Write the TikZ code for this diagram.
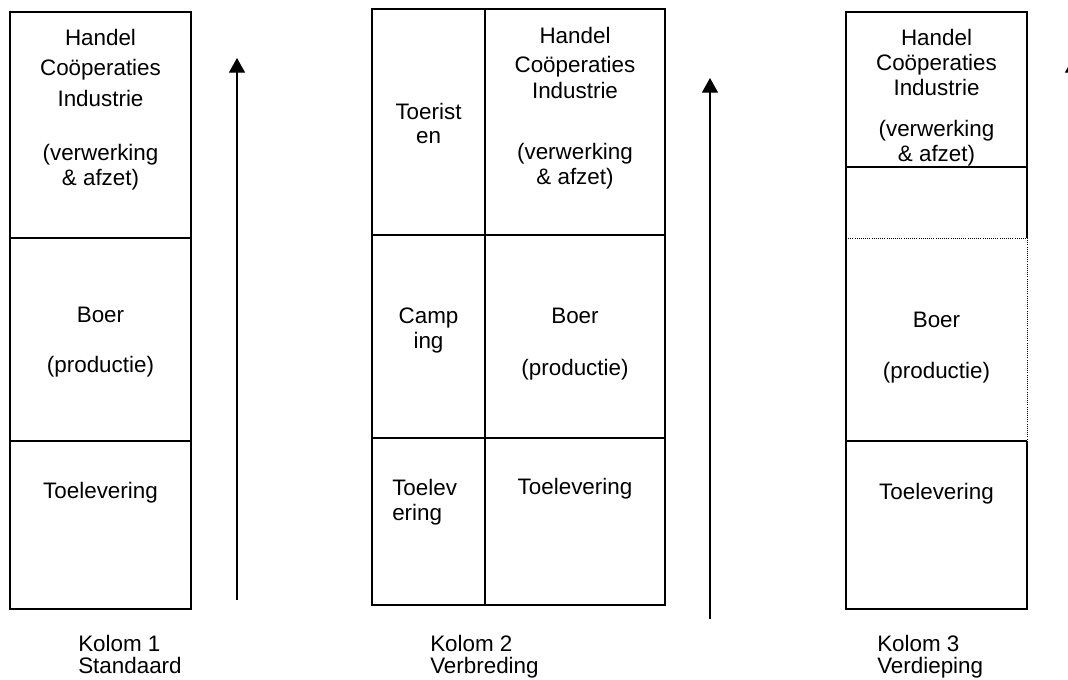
\documentclass[tikz,border=0pt]{standalone}
\usepackage{fontspec}
\setmainfont{Liberation Sans}
\usetikzlibrary{arrows.meta}

\begin{document}
\begin{tikzpicture}[x=0.75pt, y=-0.75pt,
    box/.style = {line width=1.2pt},
    dots/.style = {line width=0.6pt, densely dotted},
    txt/.style = {anchor=base, inner sep=0pt, font=\fontsize{16.8}{20}\selectfont},
    lbl/.style = {txt, anchor=base west},
    up/.style = {line width=1pt, -{Triangle[width=12pt,length=11pt]}}]
    \clip (0,0) rectangle (1068,679);
    % kolom 1
    \draw[box] (10,12) rectangle (191,609);
    \draw[box] (10,238) -- (191,238) (10,441) -- (191,441);
    \foreach \t/\yy [count=\n] in {{Handel}/45, {Coöperaties}/75, {Industrie}/106,
        {(verwerking}/160, {\& afzet)}/185, {Boer}/322, {(productie)}/372, {Toelevering}/498}
      \node[txt] (a\n) at (100.5,\yy) {\t};
    % kolom 2
    \draw[box] (372,9) rectangle (665,605);
    \draw[box] (485,9) -- (485,605) (372,235) -- (665,235) (372,438) -- (665,438);
    \foreach \t/\yy [count=\n] in {{Toerist}/119, {en}/143, {Camp}/323, {ing}/348}
      \node[txt] (bl\n) at (428.5,\yy) {\t};
    \node[lbl] (bl5) at (392,495) {Toelev};
    \node[lbl] (bl6) at (392,520) {ering};
    \foreach \t/\yy [count=\n] in {{Handel}/43, {Coöperaties}/72, {Industrie}/98,
        {(verwerking}/159, {\& afzet)}/184, {Boer}/323, {(productie)}/375, {Toelevering}/494}
      \node[txt] (br\n) at (575,\yy) {\t};
    % kolom 3
    \draw[box] (1027,238) -- (1027,12) -- (846,12) -- (846,609) -- (1027,609) -- (1027,441);
    \draw[box] (846,167) -- (1027,167) (846,441) -- (1027,441);
    \draw[dots] (846,238) -- (1027,238) (1027,238) -- (1027,441);
    \foreach \t/\yy [count=\n] in {{Handel}/45, {Coöperaties}/70, {Industrie}/95,
        {(verwerking}/136, {\& afzet)}/161, {Boer}/327, {(productie)}/378, {Toelevering}/499}
      \node[txt] (c\n) at (936.5,\yy) {\t};
    % namen
    \node[lbl] (k1) at (78,651) {Kolom 1};
    \node[lbl] (s1) at (78,673) {Standaard};
    \node[lbl] (k2) at (430,651) {Kolom 2};
    \node[lbl] (s2) at (430,673) {Verbreding};
    \node[lbl] (k3) at (877,651) {Kolom 3};
    \node[lbl] (s3) at (877,673) {Verdieping};
    % pijlen
    \coordinate (p1) at (237,600);  \coordinate (q1) at (237,58);
    \coordinate (p2) at (710,619);  \coordinate (q2) at (710,78);
    \coordinate (p3) at (1073,600); \coordinate (q3) at (1073,58);
    \draw[up] (p1) -- (q1);
    \draw[up] (p2) -- (q2);
    \draw[up] (p3) -- (q3);
\end{tikzpicture}
\end{document}
